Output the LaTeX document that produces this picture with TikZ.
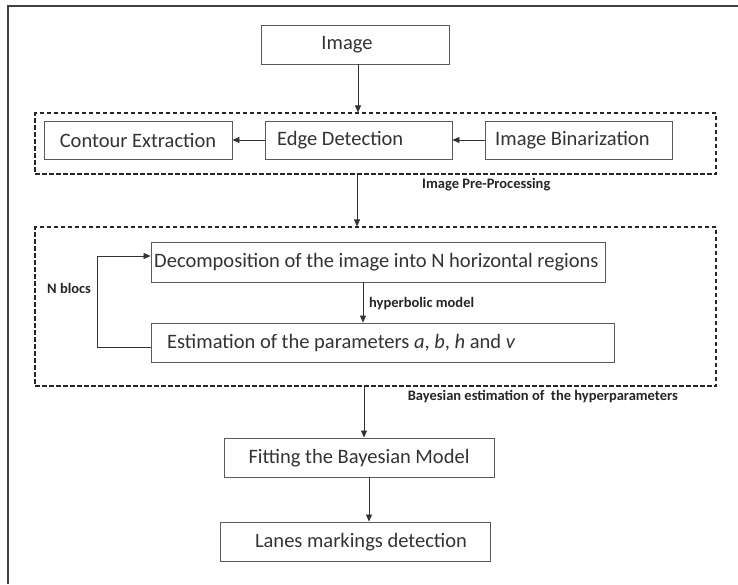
\documentclass[tikz,border=0pt]{standalone}
\usepackage{fontspec}
\setmainfont{Carlito}
\usetikzlibrary{arrows.meta}
\definecolor{boxline}{HTML}{5A5A5A}
\definecolor{txt}{HTML}{333333}
\begin{document}
\begin{tikzpicture}[x=1pt,y=-1pt,
  boxnode/.style={draw=boxline, line width=0.9pt, inner sep=0pt, fill=none},
  boxtext/.style={text=txt, inner sep=0pt, font=\fontsize{20.5}{24}\selectfont},
  smalllabel/.style={text=black!85, inner sep=0pt, font=\fontsize{14.5}{17}\selectfont\bfseries},
  arrowline/.style={draw=txt, line width=0.8pt, -{Triangle[length=7pt,width=6pt]}},
  dashbox/.style={draw=black!85, line width=1.1pt, dash pattern=on 4.5pt off 2.5pt}]
\useasboundingbox (0,0) rectangle (738,584);
\fill[white] (0,0) rectangle (738,584);
% outer frame (cropped)
\draw[black!75, line width=1.6pt] (738,6) -- (8,6) -- (8,584);
% boxes
\node[boxnode, minimum width=188pt, minimum height=39pt] (img) at (355,44.5) {};
\node[boxtext] (imgt) at (347,45) {Image};
\node[dashbox, minimum width=681pt, minimum height=61pt, inner sep=0pt] (pre) at (375.5,143.5) {};
\node[boxnode, minimum width=188pt, minimum height=38pt] (contour) at (138,140) {};
\node[boxtext] (contourt) at (138,140.5) {Contour Extraction};
\node[boxnode, minimum width=187pt, minimum height=38pt] (edge) at (358.5,140) {};
\node[boxtext, anchor=west] (edget) at (277,140.5) {Edge Detection};
\node[boxnode, minimum width=187pt, minimum height=38pt] (bin) at (578.5,140) {};
\node[boxtext, anchor=west] (bint) at (495,140.5) {Image Binarization};
\node[smalllabel, anchor=west] (prel) at (422,185) {Image Pre-Processing};
\node[dashbox, minimum width=681pt, minimum height=159pt, inner sep=0pt] (bay) at (375.5,306.5) {};
\node[boxnode, minimum width=454pt, minimum height=40pt] (decomp) at (378,262) {};
\node[boxtext, anchor=west] (decompt) at (154,262.5) {Decomposition of the image into N horizontal regions};
\node[boxnode, minimum width=463pt, minimum height=39pt] (estim) at (382.5,342.5) {};
\node[boxtext, anchor=west] (estimt) at (167,343) {Estimation of the parameters \textit{a}, \textit{b}, \textit{h} and \textit{v}};
\node[smalllabel, anchor=west] (nbl) at (47,288) {N blocs};
\node[smalllabel, anchor=west] (hyp) at (369,304) {hyperbolic model};
\node[smalllabel, anchor=east] (bayl) at (678,397) {Bayesian estimation of\ \ the hyperparameters};
\node[boxnode, minimum width=270pt, minimum height=39pt] (fit) at (359,457.5) {};
\node[boxtext] (fitt) at (359,458) {Fitting the Bayesian Model};
\node[boxnode, minimum width=270pt, minimum height=39pt] (lanes) at (355,541.5) {};
\node[boxtext] (lanest) at (361,542) {Lanes markings detection};
% connectors
\draw[arrowline] (img.south -| 358,0) -- (pre.north -| 358,0);
\draw[arrowline] (edge.west) -- (contour.east);
\draw[arrowline] (bin.west) -- (edge.east);
\draw[arrowline] (pre.south -| 357,0) -- (bay.north -| 357,0);
\draw[arrowline] (decomp.south -| 363,0) -- (estim.north -| 363,0);
\coordinate (lb) at (97,347);
\coordinate (lt) at (97,256);
\draw[arrowline] (estim.west |- lb) -- (lb) -- (lt) -- (decomp.west |- lt);
\draw[arrowline] (bay.south -| 364,0) -- (fit.north -| 364,0);
\draw[arrowline] (fit.south -| 369,0) -- (lanes.north -| 369,0);
\end{tikzpicture}
\end{document}
